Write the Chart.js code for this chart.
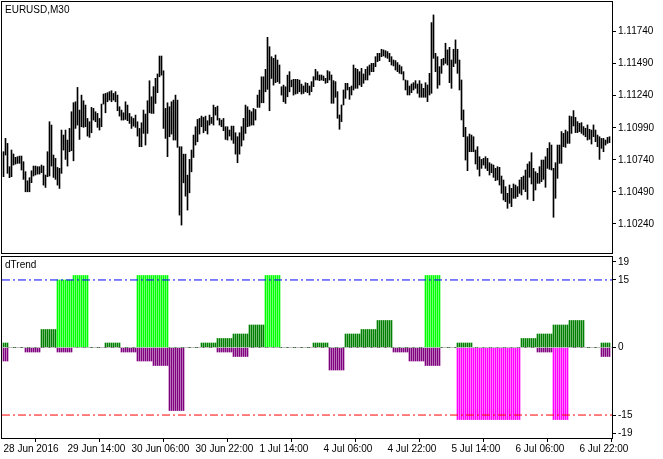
<!DOCTYPE html>
<html lang="en">
<head>
<meta charset="UTF-8">
<title>EURUSD M30 dTrend</title>
<script src="https://cdn.jsdelivr.net/npm/chart.js"></script>
<style>
  html, body { margin: 0; padding: 0; background: #fff; }
  #wrap { position: relative; width: 663px; height: 459px; }
  canvas { position: absolute; left: 0; }
  #price { top: 0; }
  #trend { top: 256px; }
</style>
</head>
<body>
<div id="wrap">
  <canvas id="price" width="663" height="256"></canvas>
  <canvas id="trend" width="663" height="203"></canvas>
</div>
<script>
// M30 bars, highs and lows
const highs = [
1.10803,1.10907,1.10868,1.10686,1.10816,1.10785,1.10759,1.10764,1.10769,1.10769,
1.10725,1.10647,1.10576,1.10600,1.10654,1.10691,1.10691,1.10686,1.10686,1.10699,
1.10691,1.10621,1.10803,1.11037,1.11011,1.10777,1.10751,1.10680,1.10673,1.10972,
1.10933,1.10972,1.10894,1.10985,1.11115,1.11186,1.11193,1.11305,1.11128,1.11245,
1.11201,1.11167,1.11063,1.11037,1.11149,1.11141,1.11115,1.11102,1.11063,1.11175,
1.11253,1.11258,1.11264,1.11272,1.11279,1.11258,1.11272,1.11245,1.11154,1.11128,
1.11107,1.11193,1.11167,1.11102,1.11076,1.11063,1.11089,1.11037,1.10985,1.11029,
1.11128,1.11097,1.11201,1.11357,1.11232,1.11311,1.11376,1.11410,1.11550,1.11550,
1.11435,1.11141,1.11185,1.11154,1.11193,1.11206,1.11245,1.11206,1.10842,1.10842,
1.10784,1.10784,1.10620,1.10743,1.10816,1.10933,1.10998,1.11055,1.11063,1.11081,
1.11071,1.11081,1.11045,1.11089,1.11071,1.11167,1.11149,1.11159,1.11063,1.11050,
1.11063,1.10998,1.10998,1.10972,1.11003,1.11003,1.10951,1.10920,1.10951,1.10998,
1.11063,1.11167,1.11154,1.11128,1.11115,1.11141,1.11133,1.11245,1.11284,1.11388,
1.11388,1.11446,1.11696,1.11623,1.11545,1.11532,1.11558,1.11519,1.11480,1.11310,
1.11323,1.11310,1.11401,1.11428,1.11362,1.11368,1.11368,1.11368,1.11362,1.11331,
1.11316,1.11342,1.11337,1.11316,1.11350,1.11389,1.11446,1.11428,1.11402,1.11402,
1.11394,1.11376,1.11436,1.11428,1.11402,1.11358,1.11350,1.11272,1.11090,1.11168,
1.11285,1.11337,1.11337,1.11306,1.11316,1.11480,1.11454,1.11446,1.11428,1.11454,
1.11410,1.11446,1.11467,1.11480,1.11493,1.11493,1.11545,1.11571,1.11571,1.11603,
1.11598,1.11592,1.11585,1.11571,1.11545,1.11519,1.11514,1.11499,1.11480,1.11467,
1.11428,1.11363,1.11358,1.11316,1.11332,1.11342,1.11358,1.11332,1.11358,1.11332,
1.11298,1.11342,1.11324,1.11415,1.11811,1.11871,1.11571,1.11545,1.11467,1.11525,
1.11532,1.11650,1.11598,1.11618,1.11519,1.11603,1.11676,1.11603,1.11519,1.11363,
1.11129,1.10993,1.10920,1.10941,1.10933,1.10920,1.10816,1.10842,1.10764,1.10743,
1.10751,1.10764,1.10751,1.10717,1.10707,1.10699,1.10673,1.10686,1.10681,1.10613,
1.10582,1.10530,1.10478,1.10543,1.10517,1.10551,1.10543,1.10530,1.10582,1.10603,
1.10613,1.10660,1.10707,1.10725,1.10795,1.10673,1.10647,1.10634,1.10686,1.10738,
1.10738,1.10764,1.10829,1.10874,1.10855,1.10673,1.10717,1.10855,1.10855,1.10960,
1.10946,1.10972,1.10960,1.11082,1.11077,1.11124,1.11071,1.11038,1.11025,1.11030,
1.10999,1.10986,1.11012,1.10978,1.10972,1.11012,1.10972,1.10933,1.10920,1.10907,
1.10907,1.10894,1.10915,1.10920
];
const lows = [
1.10608,1.10777,1.10634,1.10600,1.10608,1.10699,1.10706,1.10712,1.10712,1.10660,
1.10587,1.10490,1.10490,1.10490,1.10561,1.10613,1.10621,1.10628,1.10628,1.10639,
1.10542,1.10524,1.10608,1.10613,1.10691,1.10602,1.10587,1.10542,1.10516,1.10634,
1.10816,1.10743,1.10691,1.10803,1.10811,1.10732,1.10985,1.11011,1.10899,1.10998,
1.10993,1.10998,1.10925,1.10915,1.10951,1.11050,1.11037,1.10993,1.10972,1.10998,
1.11175,1.11107,1.11193,1.11206,1.11193,1.11206,1.11193,1.11123,1.11081,1.11050,
1.11050,1.11055,1.11045,1.11024,1.10985,1.11003,1.10993,1.10925,1.10842,1.10842,
1.10946,1.10855,1.10946,1.11107,1.11102,1.11102,1.11180,1.11264,1.11388,1.11401,
1.10985,1.10907,1.10764,1.10920,1.10941,1.10894,1.10894,1.10837,1.10308,1.10230,
1.10560,1.10456,1.10347,1.10482,1.10646,1.10758,1.10855,1.10881,1.10941,1.10998,
1.10951,1.10967,1.10941,1.11011,1.11024,1.11011,1.11089,1.11050,1.11011,1.10998,
1.10967,1.10899,1.10894,1.10925,1.10894,1.10868,1.10784,1.10717,1.10784,1.10847,
1.10894,1.10946,1.10998,1.11003,1.11011,1.11011,1.11050,1.11149,1.11149,1.11185,
1.11185,1.11271,1.11290,1.11123,1.11375,1.11323,1.11342,1.11349,1.11336,1.11245,
1.11193,1.11180,1.11232,1.11271,1.11310,1.11245,1.11253,1.11258,1.11271,1.11253,
1.11258,1.11271,1.11264,1.11246,1.11272,1.11311,1.11363,1.11363,1.11358,1.11363,
1.11358,1.11337,1.11342,1.11363,1.11181,1.11181,1.11228,1.11064,1.10978,1.11038,
1.11168,1.11220,1.11285,1.11212,1.11246,1.11285,1.11298,1.11298,1.11324,1.11311,
1.11337,1.11363,1.11363,1.11402,1.11428,1.11428,1.11467,1.11506,1.11514,1.11545,
1.11551,1.11540,1.11532,1.11506,1.11480,1.11473,1.11441,1.11428,1.11415,1.11410,
1.11363,1.11285,1.11246,1.11246,1.11264,1.11285,1.11298,1.11259,1.11228,1.11228,
1.11228,1.11228,1.11194,1.11246,1.11259,1.11532,1.11428,1.11298,1.11324,1.11415,
1.11480,1.11493,1.11480,1.11342,1.11298,1.11467,1.11493,1.11415,1.11285,1.11051,
1.10920,1.10738,1.10655,1.10803,1.10803,1.10803,1.10707,1.10665,1.10613,1.10673,
1.10699,1.10673,1.10655,1.10621,1.10639,1.10603,1.10577,1.10582,1.10543,1.10478,
1.10426,1.10413,1.10361,1.10400,1.10374,1.10439,1.10439,1.10452,1.10478,1.10465,
1.10509,1.10491,1.10431,1.10603,1.10551,1.10420,1.10504,1.10556,1.10556,1.10569,
1.10587,1.10525,1.10673,1.10665,1.10660,1.10291,1.10439,1.10595,1.10712,1.10712,
1.10842,1.10837,1.10868,1.10868,1.10946,1.11004,1.10952,1.10952,1.10960,1.10946,
1.10933,1.10920,1.10894,1.10900,1.10863,1.10920,1.10881,1.10842,1.10743,1.10829,
1.10803,1.10855,1.10868,1.10874
];

// dTrend histogram, one value per H4 block (8 M30 bars; first and last blocks are partial)
const blockSizes = [3,8,8,8,8,8,8,8,8,8,8,8,8,8,8,8,8,8,8,8,8,8,8,8,8,8,8,8,8,8,8,8,8,8,8,8,8,8,5];
const trendUp   = [1,0,0,4,15,16,0,1,0,16,16,0,0,1,2,3,5,16,0,0,1,0,3,4,6,0,0,16,0,1,0,0,0,2,3,5,6,0,1];
const trendDown = [-3,0,-1,0,-1,0,0,0,-1,-3,-4,-14,0,0,-1,-2,0,0,0,0,0,-5,0,0,0,-1,-3,-4,0,-16,-16,-16,-16,0,-1,-16,0,0,-2];

const priceTicks = [1.10240,1.10490,1.10740,1.10990,1.11240,1.11490,1.11740];
const trendTicks = [-19,-15,0,15,19];
const timeTickBars = [0,32,64,96,128,160,192,224,256,288];
const timeTickLabels = ['28 Jun 2016','29 Jun 14:00','30 Jun 06:00','30 Jun 22:00','1 Jul 14:00',
                        '4 Jul 06:00','4 Jul 22:00','5 Jul 14:00','6 Jul 06:00','6 Jul 22:00'];

const FONT = { family: 'Liberation Sans', size: 10 };
const X_MIN = -0.75, X_MAX = 304.25;
Chart.defaults.animation = false;
Chart.defaults.devicePixelRatio = 1;

// frame + panel caption
function framePlugin(caption) {
    return {
        id: 'frame',
        afterDraw(chart) {
            const a = chart.chartArea, ctx = chart.ctx;
            ctx.save();
            ctx.strokeStyle = '#000';
            ctx.lineWidth = 1;
            ctx.strokeRect(Math.round(a.left) - 0.5, Math.round(a.top) - 0.5,
                           Math.round(a.right - a.left) + 1, Math.round(a.bottom - a.top) + 1);
            ctx.fillStyle = '#000';
            ctx.font = '10px "Liberation Sans"';
            ctx.textBaseline = 'top';
            ctx.fillText(caption, a.left + 3, a.top + 3);
            ctx.restore();
        }
    };
}

function rightAxis(min, max, ticks, fmt) {
    return {
        type: 'linear', position: 'right', min: min, max: max,
        afterBuildTicks: s => { s.ticks = ticks.map(v => ({ value: v })); },
        afterFit: s => { s.width = 51; s.paddingTop = 0; s.paddingBottom = 0; },
        grid: { display: true, drawOnChartArea: false, drawTicks: true, tickLength: 4, color: '#000' },
        border: { display: true, color: '#000' },
        ticks: { color: '#000', font: FONT, padding: 2, callback: fmt }
    };
}

// price chart
const priceData = highs.map((h, i) => ({ x: i, y: [lows[i], h] }));
new Chart(document.getElementById('price'), {
    type: 'bar',
    data: { datasets: [{ data: priceData, backgroundColor: '#000', barThickness: 1 }] },
    options: {
        responsive: false,
        layout: { padding: { left: 2, top: 2, right: 0, bottom: 3 } },
        plugins: { legend: { display: false }, tooltip: { enabled: false } },
        scales: {
            x: { type: 'linear', min: X_MIN, max: X_MAX, display: false, offset: false },
            y: rightAxis(1.10012, 1.11972, priceTicks, v => v.toFixed(5))
        }
    },
    plugins: [framePlugin('EURUSD,M30')]
});

// expand block values to bars
const upData = [], downData = [], upColors = [], downColors = [];
let bar = 0;
blockSizes.forEach((n, b) => {
    for (let k = 0; k < n; k++, bar++) {
        upData.push({ x: bar, y: trendUp[b] });
        downData.push({ x: bar, y: trendDown[b] });
        upColors.push(trendUp[b] >= 15 ? '#00FF00' : '#008000');
        downColors.push(trendDown[b] <= -15 ? '#FF00FF' : '#800080');
    }
});

function level(y, color, dash) {
    return {
        type: 'line', data: [{ x: X_MIN, y: y }, { x: X_MAX, y: y }],
        borderColor: color, borderWidth: 1, borderDash: dash, pointRadius: 0, order: 0
    };
}

new Chart(document.getElementById('trend'), {
    type: 'bar',
    data: {
        datasets: [
            { data: upData, backgroundColor: upColors, barThickness: 1, grouped: false, order: 1 },
            { data: downData, backgroundColor: downColors, barThickness: 1, grouped: false, order: 1 },
            level(15, '#0000FF', [8, 3, 2, 3]),
            level(-15, '#FF0000', [8, 3, 2, 3]),
            level(0, '#C0C0C0', [4, 3])
        ]
    },
    options: {
        responsive: false,
        layout: { padding: { left: 2, top: 1, right: 0, bottom: 0 } },
        plugins: { legend: { display: false }, tooltip: { enabled: false } },
        scales: {
            x: {
                type: 'linear', min: X_MIN, max: X_MAX, offset: false,
                afterBuildTicks: s => { s.ticks = timeTickBars.map(v => ({ value: v })); },
                afterFit: s => { s.height = 21; s.paddingLeft = 0; s.paddingRight = 0; },
                grid: { display: true, drawOnChartArea: false, drawTicks: true, tickLength: 4, color: '#000' },
                border: { display: true, color: '#000' },
                ticks: {
                    color: '#000', font: FONT, padding: 1, align: 'start', maxRotation: 0, autoSkip: false,
                    callback: v => timeTickLabels[timeTickBars.indexOf(v)]
                }
            },
            y: rightAxis(-20.1, 20.1, trendTicks, v => String(v))
        }
    },
    plugins: [framePlugin('dTrend')]
});
</script>
</body>
</html>
